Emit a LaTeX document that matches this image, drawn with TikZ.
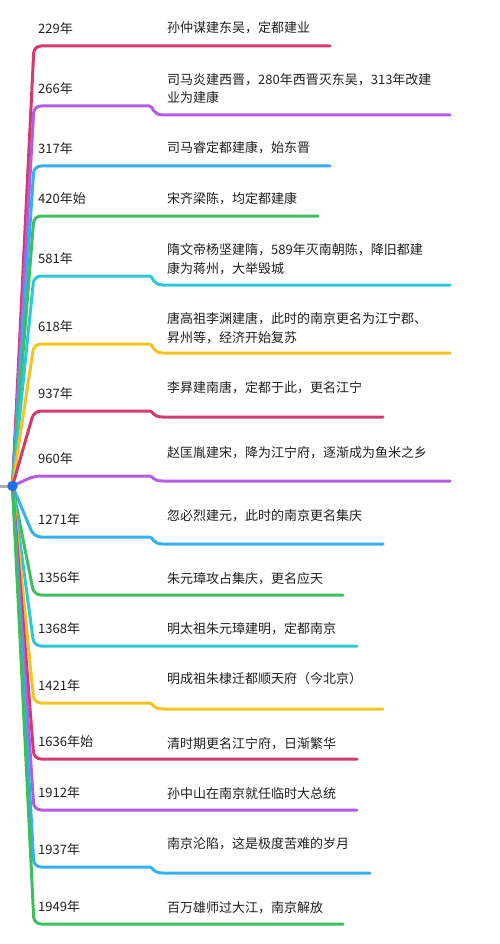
\documentclass[tikz,border=0pt]{standalone}
\usepackage{fontspec}
\setmainfont{Noto Sans CJK SC}
\definecolor{rosaRamo}{RGB}{212,58,106}
\definecolor{roxoRamo}{RGB}{180,92,230}
\definecolor{azulRamo}{RGB}{50,176,240}
\definecolor{verdeRamo}{RGB}{62,190,92}
\definecolor{cianoRamo}{RGB}{42,200,216}
\definecolor{amareloRamo}{RGB}{245,195,30}
\definecolor{azulRaiz}{RGB}{30,110,236}
\definecolor{cinzaCauda}{RGB}{172,176,182}
\usetikzlibrary{backgrounds}
\tikzset{
  raiz/.style={circle, fill=azulRaiz, minimum size=10.5pt, inner sep=0pt},
  ano/.style={anchor=south west, inner xsep=4pt, inner ysep=9pt,
              text height=10pt, text depth=3pt, text width=100pt, align=left,
              font=\fontsize{13}{18.5}\selectfont, text=black!88},
  fato/.style={anchor=base west, inner sep=0pt, align=left,
               font=\fontsize{13}{18.5}\selectfont, text=black!88},
  ramo/.style={line width=3pt, line cap=round, line join=round},
  cauda/.style={line width=3pt, cinzaCauda},
}
\begin{document}
\begin{tikzpicture}[x=1pt, y=-1pt]
  \useasboundingbox (0,0) rectangle (500,944);
  \node[raiz] (raiz) at (12.5,486) {};
  \coordinate (ponta) at (0,486);
  \begin{scope}[on background layer]
    \draw[cauda] (raiz.center) -- (ponta);
  \end{scope}
  % ano / cor / linha do ano / linha do fato / fim / centro da ultima linha / fato
  \foreach \n/\cor/\ano/\ya/\yb/\xe/\yc/\txt in {
      1/rosaRamo/229年/46/46/330/28/{孙仲谋建东吴，定都建业},
      2/roxoRamo/266年/106/115/450/98/{司马炎建西晋，280年西晋灭东吴，313年改建\\业为建康},
      3/azulRamo/317年/166/166/330/148/{司马睿定都建康，始东晋},
      4/verdeRamo/420年始/216/216/318/199/{宋齐梁陈，均定都建康},
      5/cianoRamo/581年/276/285/450/268/{隋文帝杨坚建隋，589年灭南朝陈，降旧都建\\康为蒋州，大举毁城},
      6/amareloRamo/618年/344/353/450/337/{唐高祖李渊建唐，此时的南京更名为江宁郡、\\昇州等，经济开始复苏},
      7/rosaRamo/937年/411/417/383/387/{李昪建南唐，定都于此，更名江宁},
      8/roxoRamo/960年/476/481/450/452/{赵匡胤建宋，降为江宁府，逐渐成为鱼米之乡},
      9/azulRamo/1271年/537/544/383/515/{忽必烈建元，此时的南京更名集庆},
      10/verdeRamo/1356年/595/595/343/578/{朱元璋攻占集庆，更名应天},
      11/cianoRamo/1368年/646/646/357/628/{明太祖朱元璋建明，定都南京},
      12/amareloRamo/1421年/703/709/383/678/{明成祖朱棣迁都顺天府（今北京）},
      13/rosaRamo/1636年始/759/759/357/743/{清时期更名江宁府，日渐繁华},
      14/roxoRamo/1912年/810/810/357/793/{孙中山在南京就任临时大总统},
      15/azulRamo/1937年/867/873/370/843/{南京沦陷，这是极度苦难的岁月},
      16/verdeRamo/1949年/924/924/343/907/{百万雄师过大江，南京解放}}{
    \node[ano] (a\n) at (34,\ya) {\ano};
    \node[fato] (f\n) at (167,\yc+5) {\txt};
    \coordinate (l\n) at (163,\yb);
    \coordinate (r\n) at (\xe,\yb);
    \begin{scope}[on background layer]
      \draw[ramo, \cor] (raiz.center) [rounded corners=7pt] -- (a\n.south west)
        -- (a\n.south east) [sharp corners]
        .. controls +(11,0) and +(-11,0) .. (l\n) -- (r\n);
    \end{scope}
  }
\end{tikzpicture}
\end{document}
